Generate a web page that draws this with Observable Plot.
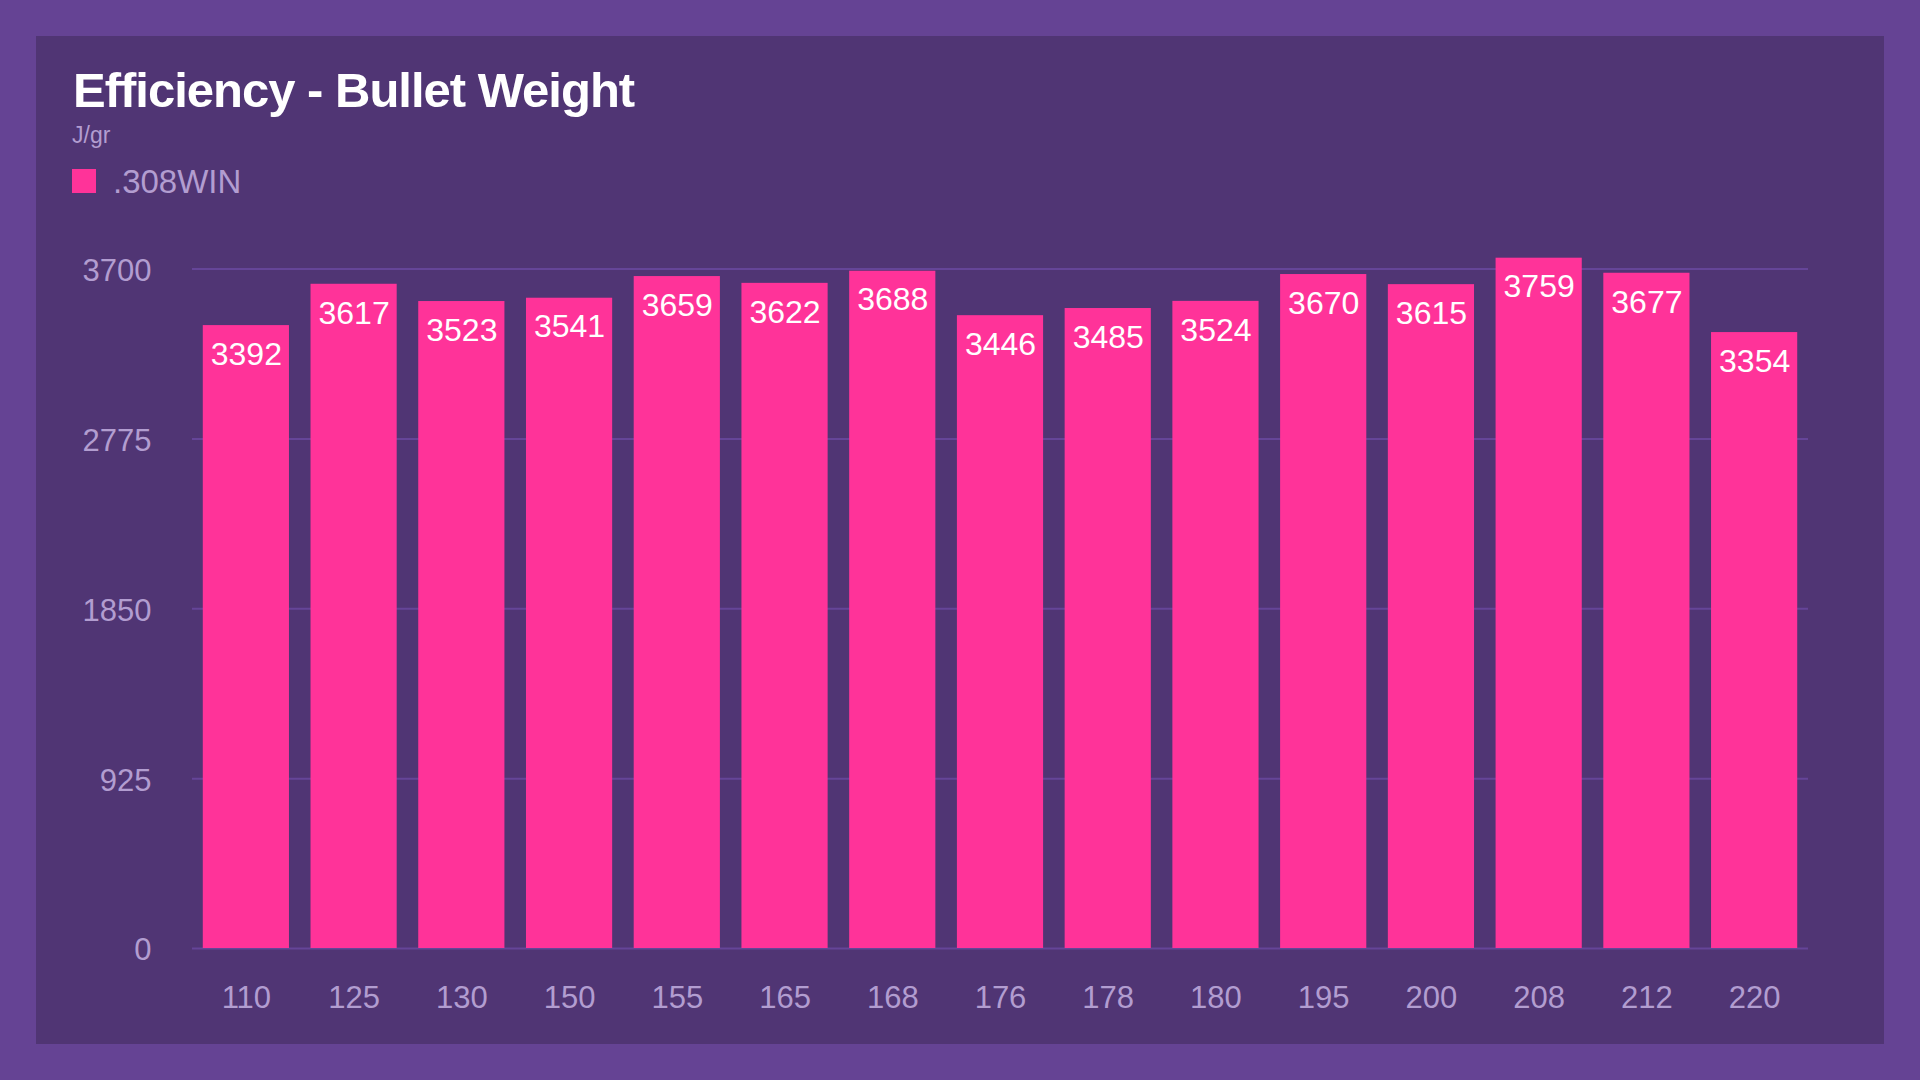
<!DOCTYPE html>
<html>
<head>
<meta charset="utf-8">
<script src="https://cdn.jsdelivr.net/npm/d3@7"></script>
<script src="https://cdn.jsdelivr.net/npm/@observablehq/plot@0.6"></script>
<style>
  html, body { margin: 0; padding: 0; }
  body { width: 1920px; height: 1080px; background: #654394; position: relative; overflow: hidden;
         font-family: "Liberation Sans", Arial, Helvetica, sans-serif; }
  #panel { position: absolute; left: 36px; top: 36px; width: 1848px; height: 1008px; background: #503574; }
  #title { position: absolute; left: 37px; top: 30px; font-size: 49px; font-weight: bold; color: #ffffff;
           line-height: 1; letter-spacing: -1px; white-space: nowrap; }
  #subtitle { position: absolute; left: 36px; top: 88px; font-size: 23px; color: #b29dd0; line-height: 1; }
  #legend { position: absolute; left: 36px; top: 133px; height: 24px; display: flex; align-items: center; }
  #legend .sw { width: 24px; height: 24px; margin-right: 17px; }
  #legend .lab { font-size: 33px; color: #b29dd0; line-height: 1; }
  #chart { position: absolute; left: 0; top: 184px; }
</style>
</head>
<body>
<div id="panel">
  <div id="title"></div>
  <div id="subtitle"></div>
  <div id="legend"></div>
  <div id="chart"></div>
</div>
<script>
// ---- data ----
const titleText = "Efficiency - Bullet Weight";
const unitText = "J/gr";
const seriesName = ".308WIN";
const weights = ["110","125","130","150","155","165","168","176","178","180","195","200","208","212","220"];
const values = [3392,3617,3523,3541,3659,3622,3688,3446,3485,3524,3670,3615,3759,3677,3354];
const yTicks = [0,925,1850,2775,3700];

const barColor = "#ff3399";
const textColor = "#b29dd0";
const gridColor = "#654598";

document.getElementById("title").textContent = titleText;
document.getElementById("subtitle").textContent = unitText;
const leg = document.getElementById("legend");
const sw = document.createElement("div"); sw.className = "sw"; sw.style.background = barColor;
const lab = document.createElement("div"); lab.className = "lab"; lab.textContent = seriesName;
leg.appendChild(sw); leg.appendChild(lab);

const data = weights.map((w, i) => ({weight: w, value: values[i]}));

const chart = Plot.plot({
  width: 1848,
  height: 824,
  marginTop: 32,
  marginBottom: 96,
  marginLeft: 156,
  marginRight: 76,
  style: {background: "transparent", fontFamily: "'Liberation Sans', Arial, Helvetica, sans-serif"},
  x: {domain: weights, paddingInner: 0.2, paddingOuter: 0.1, round: false, label: null},
  y: {domain: [0, 3790], label: null},
  marks: [
    Plot.ruleY(yTicks, {stroke: gridColor, strokeWidth: 2}),
    Plot.barY(data, {x: "weight", y: "value", fill: barColor}),
    Plot.text(data, {x: "weight", y: "value", text: d => String(d.value), fill: "#ffffff",
                     fontSize: 32, dy: 29}),
    Plot.axisY({ticks: yTicks, tickSize: 0, tickPadding: 41, fontSize: 31, color: textColor,
                tickFormat: d => String(d), label: null, dy: 2}),
    Plot.axisX({tickSize: 0, tickPadding: 37, fontSize: 31, color: textColor, label: null})
  ]
});
document.getElementById("chart").appendChild(chart);
</script>
</body>
</html>
